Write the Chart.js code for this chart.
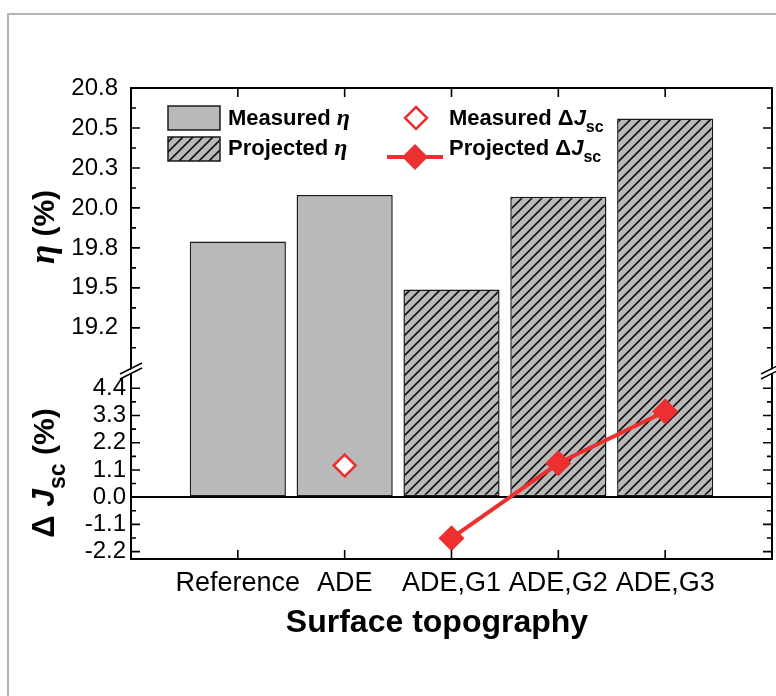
<!DOCTYPE html>
<html>
<head>
<meta charset="utf-8">
<script src="https://cdn.jsdelivr.net/npm/chart.js@4.4.1/dist/chart.umd.min.js"></script>
<style>
  html, body { margin: 0; padding: 0; background: #fff; }
  #wrap { position: relative; width: 776px; height: 696px; overflow: hidden; }
  #frame { position: absolute; left: 7px; top: 13px; width: 820px; height: 820px; border: 2px solid #b4b4b4; box-sizing: border-box; }
  canvas { position: absolute; left: 0; top: 0; }
</style>
</head>
<body>
<div id="wrap">
  <div id="frame"></div>
  <canvas id="chart" width="776" height="696"></canvas>
</div>
<script>
// data
const categories = ['Reference', 'ADE', 'ADE,G1', 'ADE,G2', 'ADE,G3'];
const measuredEta = [19.79, 20.08, null, null, null];
const projectedEta = [null, null, 19.49, 20.07, 20.56];
const measuredDJsc = [null, 1.28, null, null, null];
const projectedDJsc = [null, null, -1.66, 1.37, 3.46];

const etaTicks = [19.25, 19.5, 19.75, 20.0, 20.25, 20.5, 20.75];
const etaTickLabels = ['19.2', '19.5', '19.8', '20.0', '20.3', '20.5', '20.8'];
const djTicks = [-2.2, -1.1, 0, 1.1, 2.2, 3.3, 4.4];
const djTickLabels = ['-2.2', '-1.1', '0.0', '1.1', '2.2', '3.3', '4.4'];

const etaMin = 18.98, etaMax = 20.75;
const djMin = -2.5, djMax = 5.1;

const SANS = '"Liberation Sans", Arial, sans-serif';
const SERIF = '"Liberation Serif", "Times New Roman", serif';
const gray = '#b9b9b9';
const edge = '#1a1a1a';
const red = '#ec2f2f';

Chart.defaults.font.family = SANS;
Chart.defaults.color = '#000';

const canvas = document.getElementById('chart');
const ctx0 = canvas.getContext('2d');

function makeHatch() {
  const c = document.createElement('canvas');
  c.width = 10; c.height = 10;
  const g = c.getContext('2d');
  g.fillStyle = gray;
  g.fillRect(0, 0, 10, 10);
  g.strokeStyle = '#111';
  g.lineWidth = 1.6;
  g.beginPath();
  g.moveTo(-2, 12); g.lineTo(12, -2);
  g.moveTo(-7, 7); g.lineTo(7, -7);
  g.moveTo(3, 17); g.lineTo(17, 3);
  g.stroke();
  return ctx0.createPattern(c, 'repeat');
}
const hatch = makeHatch();

// category axis has an empty slot at each end
const labels = ['', ...categories, ''];
const pad = arr => [null, ...arr, null];
const upper = arr => pad(arr.map(v => v == null ? null : [etaMin, v]));
const lower = arr => pad(arr.map(v => v == null ? null : [0, djMax]));

function withMinor(major, half) {
  const out = major.slice();
  for (let i = 0; i < major.length - 1; i++) out.push((major[i] + major[i + 1]) / 2);
  if (half) out.push(major[0] - half);
  return out.sort((a, b) => a - b);
}
function labelFor(v, vals, txt) {
  const i = vals.indexOf(v);
  return i >= 0 ? txt[i] : '';
}

function diamond(ctx, x, y, r) {
  ctx.beginPath();
  ctx.moveTo(x, y - r); ctx.lineTo(x + r, y); ctx.lineTo(x, y + r); ctx.lineTo(x - r, y);
  ctx.closePath();
}

function rich(ctx, pieces, x, y, rotate, centre) {
  ctx.save();
  ctx.translate(x, y);
  if (rotate) ctx.rotate(-Math.PI / 2);
  ctx.textAlign = 'left';
  ctx.textBaseline = 'alphabetic';
  let total = 0;
  pieces.forEach(p => { ctx.font = p.font; p.w = ctx.measureText(p.t).width; total += p.w; });
  let cx = (rotate || centre) ? -total / 2 : 0;
  pieces.forEach(p => { ctx.font = p.font; ctx.fillText(p.t, cx, p.dy || 0); cx += p.w; });
  ctx.restore();
}

const decor = {
  id: 'decor',
  afterDraw(chart) {
    const { ctx, chartArea: a, scales } = chart;
    const yU = scales.y, yL = scales.y2, x = scales.x;
    const brk = yU.bottom;
    ctx.save();
    ctx.strokeStyle = '#000';
    ctx.fillStyle = '#000';

    // frame
    ctx.lineWidth = 2;
    ctx.strokeRect(a.left, a.top, a.right - a.left, a.bottom - a.top);

    // inward ticks
    ctx.lineWidth = 1.6;
    ctx.beginPath();
    [yU, yL].forEach(s => s.ticks.forEach(t => {
      const p = s.getPixelForValue(t.value);
      if (Math.abs(p - brk) < 4) return;
      const len = t.label ? 9 : 5;
      ctx.moveTo(a.left, p); ctx.lineTo(a.left + len, p);
      ctx.moveTo(a.right, p); ctx.lineTo(a.right - len, p);
    }));
    x.ticks.forEach((t, i) => {
      if (!t.label) return;
      const p = x.getPixelForTick(i);
      ctx.moveTo(p, a.bottom); ctx.lineTo(p, a.bottom - 9);
      ctx.moveTo(p, a.top); ctx.lineTo(p, a.top + 9);
    });
    ctx.stroke();

    // axis break marks
    [a.left, a.right].forEach(x0 => {
      ctx.fillStyle = '#fff';
      ctx.beginPath();
      ctx.moveTo(x0 - 4, brk + 0.5); ctx.lineTo(x0 + 4, brk - 3.5);
      ctx.lineTo(x0 + 4, brk + 0.5); ctx.lineTo(x0 - 4, brk + 4.5);
      ctx.closePath();
      ctx.fill();
      ctx.lineWidth = 1.5;
      ctx.beginPath();
      ctx.moveTo(x0 - 11, brk + 3); ctx.lineTo(x0 + 11, brk - 8);
      ctx.moveTo(x0 - 11, brk + 8); ctx.lineTo(x0 + 11, brk - 3);
      ctx.stroke();
    });

    // axis titles
    ctx.fillStyle = '#000';
    rich(ctx, [
      { t: 'η', font: 'bold italic 35px ' + SERIF },
      { t: ' (%)', font: 'bold 30px ' + SANS }
    ], 54, 227, true);
    rich(ctx, [
      { t: 'Δ ', font: 'bold 31px ' + SANS },
      { t: 'J', font: 'bold italic 32px ' + SANS },
      { t: 'sc', font: 'bold 23px ' + SANS, dy: 11 },
      { t: ' (%)', font: 'bold 30px ' + SANS }
    ], 54, 473, true);
    rich(ctx, [{ t: 'Surface topography', font: 'bold 32px ' + SANS }], 437, 632, false, true);

    // legend
    ctx.lineWidth = 1.5;
    ctx.strokeStyle = edge;
    ctx.fillStyle = gray;
    ctx.fillRect(168, 106, 52, 24);
    ctx.strokeRect(168, 106, 52, 24);
    ctx.fillStyle = hatch;
    ctx.fillRect(168, 137, 52, 24);
    ctx.strokeRect(168, 137, 52, 24);

    ctx.fillStyle = '#000';
    const lf = 'bold 22px ' + SANS;
    const eta = 'bold italic 24px ' + SERIF;
    rich(ctx, [{ t: 'Measured ', font: lf }, { t: 'η', font: eta }], 228, 125);
    rich(ctx, [{ t: 'Projected ', font: lf }, { t: 'η', font: eta }], 228, 155);

    ctx.strokeStyle = red;
    ctx.lineWidth = 2.5;
    ctx.fillStyle = '#fff';
    diamond(ctx, 416, 118, 11);
    ctx.fill(); ctx.stroke();

    ctx.lineWidth = 4;
    ctx.beginPath();
    ctx.moveTo(387, 157); ctx.lineTo(443, 157);
    ctx.stroke();
    ctx.fillStyle = red;
    diamond(ctx, 415, 157, 13);
    ctx.fill();

    ctx.fillStyle = '#000';
    rich(ctx, [{ t: 'Measured Δ', font: lf }, { t: 'J', font: 'bold italic 22px ' + SANS },
      { t: 'sc', font: 'bold 16px ' + SANS, dy: 7 }], 449, 125);
    rich(ctx, [{ t: 'Projected Δ', font: lf }, { t: 'J', font: 'bold italic 22px ' + SANS },
      { t: 'sc', font: 'bold 16px ' + SANS, dy: 7 }], 449, 155);

    ctx.restore();
  }
};

const barBase = {
  type: 'bar',
  grouped: false,
  barPercentage: 0.9,
  categoryPercentage: 1,
  borderColor: edge,
  borderWidth: 1.5,
  order: 2
};

new Chart(canvas, {
  data: {
    labels: labels,
    datasets: [
      { ...barBase, label: 'Measured η', yAxisID: 'y', data: upper(measuredEta), backgroundColor: gray, borderSkipped: 'bottom' },
      { ...barBase, label: 'Measured η (lower)', yAxisID: 'y2', data: lower(measuredEta), backgroundColor: gray, borderSkipped: 'top' },
      { ...barBase, label: 'Projected η', yAxisID: 'y', data: upper(projectedEta), backgroundColor: hatch, borderSkipped: 'bottom' },
      { ...barBase, label: 'Projected η (lower)', yAxisID: 'y2', data: lower(projectedEta), backgroundColor: hatch, borderSkipped: 'top' },
      {
        type: 'line', label: 'Measured ΔJsc', yAxisID: 'y2', data: pad(measuredDJsc),
        showLine: false, pointStyle: 'rectRot', pointRadius: 11, pointBorderWidth: 2.5,
        pointBackgroundColor: '#fff', pointBorderColor: red, order: 0
      },
      {
        type: 'line', label: 'Projected ΔJsc', yAxisID: 'y2', data: pad(projectedDJsc),
        borderColor: red, borderWidth: 4, pointStyle: 'rectRot', pointRadius: 13,
        pointBorderWidth: 0, pointBackgroundColor: red, order: 0
      }
    ]
  },
  options: {
    responsive: false,
    animation: false,
    events: [],
    layout: { autoPadding: false, padding: { top: 88, right: 4, left: 0, bottom: 0 } },
    plugins: { legend: { display: false }, tooltip: { enabled: false } },
    scales: {
      x: {
        type: 'category',
        offset: false,
        grid: { display: false },
        border: { display: false },
        ticks: { autoSkip: false, maxRotation: 0, font: { size: 27 }, color: '#000', padding: 0 },
        afterFit: s => { s.height = 137; }
      },
      // lower (ΔJsc) part of the broken axis
      y2: {
        type: 'linear', position: 'left', stack: 'v', stackWeight: 188, weight: 0,
        min: djMin, max: djMax,
        afterBuildTicks: s => { s.ticks = withMinor(djTicks, 0).map(v => ({ value: v })); },
        ticks: { autoSkip: false, font: { size: 24 }, color: '#000', padding: 5,
          callback: v => labelFor(v, djTicks, djTickLabels) },
        grid: {
          drawTicks: false, lineWidth: 2,
          color: c => (c.tick && c.tick.value === 0) ? '#000' : 'rgba(0,0,0,0)'
        },
        border: { display: false },
        afterFit: s => { s.width = 131; }
      },
      // upper (η) part of the broken axis
      y: {
        type: 'linear', position: 'left', stack: 'v', stackWeight: 283, weight: 1,
        min: etaMin, max: etaMax,
        afterBuildTicks: s => { s.ticks = withMinor(etaTicks, 0.125).map(v => ({ value: v })); },
        ticks: { autoSkip: false, font: { size: 24 }, color: '#000', padding: 5,
          callback: v => labelFor(v, etaTicks, etaTickLabels) },
        grid: { display: false },
        border: { display: false },
        afterFit: s => { s.width = 131; }
      }
    }
  },
  plugins: [decor]
});
</script>
</body>
</html>
